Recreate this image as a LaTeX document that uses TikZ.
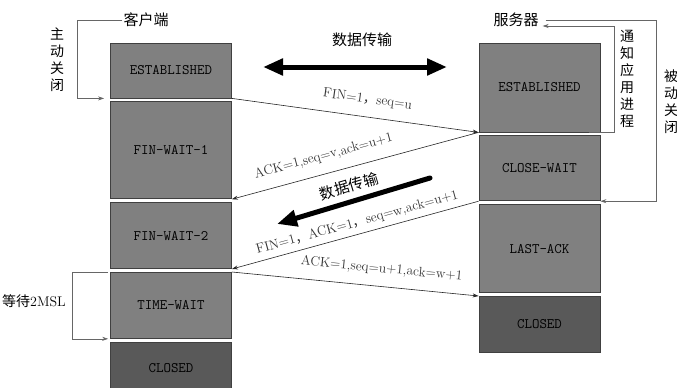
\documentclass[tikz,border=0pt]{standalone}
\usepackage{fontspec}
\newfontfamily\cjk{Noto Sans CJK SC}
\usetikzlibrary{arrows, arrows.meta, positioning, calc}

\begin{document}
\begin{tikzpicture}[
    x=1pt, y=-1pt,
    node distance=3pt,
    state/.style={rectangle, draw=black!75, line width=0.8pt, fill=black!50, minimum width=121pt, inner sep=0pt, text=black, font=\ttfamily\fontsize{14.5}{14.5}\selectfont},
    closed/.style={state, fill=black!65},
    arrow/.style={->, >={Stealth[length=6pt,width=4pt]}, line width=0.6pt, draw=black!85},
    side/.style={arrow, draw=black!60},
    msg/.style={sloped, font=\fontsize{13.5}{13.5}\selectfont, text=black!80, inner sep=1pt},
    bigarrow/.style={line width=5pt, -{Triangle[length=20pt,width=16pt]}},
    cn/.style={font=\cjk\fontsize{15}{15}\selectfont, inner sep=1pt},
    vcn/.style={font=\cjk\fontsize{14}{17}\selectfont, align=center, inner sep=0pt}
]
\useasboundingbox (0,0) rectangle (677,388);

% client side
\node[state, minimum height=55pt] (cest) at (171,70.5) {ESTABLISHED};
\node[state, minimum height=97pt, below=of cest] (cfw1) {FIN-WAIT-1};
\node[state, minimum height=66pt, below=of cfw1] (cfw2) {FIN-WAIT-2};
\node[state, minimum height=66pt, below=of cfw2] (ctw) {TIME-WAIT};
\node[closed, minimum height=52pt, below=of ctw] (ccl) {CLOSED};

% server side
\node[state, minimum height=89pt] (sest) at (539.5,87.5) {ESTABLISHED};
\node[state, minimum height=65pt, below=of sest] (swait) {CLOSE-WAIT};
\node[state, minimum height=88pt, below=of swait] (slack) {LAST-ACK};
\node[closed, minimum height=56pt, below=of slack] (scl) {CLOSED};

\node[cn] (client) at (146,20) {客户端};
\node[cn] (server) at (516,20) {服务器};
\node[vcn] (active) at (57,60) {主\\动\\关\\闭};
\node[vcn] (notify) at (627,79) {通\\知\\应\\用\\进\\程};
\node[vcn] (passive) at (671,102) {被\\动\\关\\闭};
\node[cn, font=\fontsize{14}{14}\selectfont] (msl) at (34,301) {{\cjk 等待}2MSL};

% brackets
\draw[side] (client.west) -- ++(-45,0) |- ([xshift=-6pt]cest.south west);
\draw[side] ([xshift=-11pt]sest.south east) -- ++(25,0) |- ([xshift=3pt,yshift=-6pt]server.east);
\draw[side] ([xshift=6pt]server.east) -- ++(111,0) |- (swait.south east);
\draw[side] ([xshift=-2pt]ctw.north west) -- ++(-36,0) |- ([xshift=-2pt]ctw.south west);

% data transfer
\coordinate (tl) at (263,67);
\coordinate (tr) at (447,67);
\node[cn] (data1) at (362,40) {数据传输};
\draw[bigarrow, {Triangle[length=20pt,width=16pt]}-{Triangle[length=20pt,width=16pt]}] (tl) -- (tr);
\coordinate (ms) at (430,178);
\coordinate (me) at (277,224);
\draw[bigarrow, line cap=round] (ms) -- node[cn, sloped, above=5pt] (data2) {数据传输} (me);

% messages
\draw[arrow] (cest.south east) -- node[msg, pos=0.54, above=10pt] {FIN=1{\cjk ，}seq=u} (sest.south west);
\draw[arrow] (sest.south west) -- node[msg, pos=0.61, above=10pt] {ACK=1,seq=v,ack=u+1} (cfw1.south east);
\draw[arrow] (swait.south west) -- node[msg, pos=0.48, above=4pt] {FIN=1{\cjk ，}ACK=1{\cjk ，}seq=w,ack=u+1} (cfw2.south east);
\draw[arrow] (ctw.north east) -- node[msg, pos=0.6, above=10pt] {ACK=1,seq=u+1,ack=w+1} (scl.north west);
\end{tikzpicture}
\end{document}
